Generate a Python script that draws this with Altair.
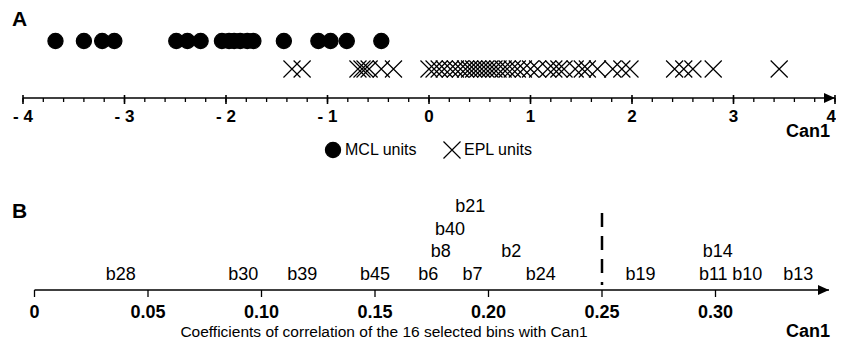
import altair as alt
import pandas as pd

FONT = "Liberation Sans"

# ---------------- data ----------------
mcl_units = [-3.68, -3.40, -3.22, -3.10, -2.49, -2.38, -2.25, -2.04, -1.97, -1.92,
             -1.86, -1.79, -1.73, -1.43, -1.09, -0.97, -0.81, -0.47]
epl_units = [-1.35, -1.25, -0.70, -0.66, -0.63, -0.59, -0.47, -0.35, 0.00, 0.05,
             0.10, 0.15, 0.21, 0.26, 0.31, 0.36, 0.40, 0.44, 0.48, 0.52,
             0.56, 0.60, 0.64, 0.68, 0.73, 0.77, 0.82, 0.87, 0.93, 1.00,
             1.07, 1.17, 1.23, 1.28, 1.33, 1.44, 1.51, 1.56, 1.66, 1.81,
             1.90, 1.98, 2.42, 2.51, 2.60, 2.80, 3.45]
unit_names = ["MCL units", "EPL units"]
can1_ticks = [-4, -3, -2, -1, 0, 1, 2, 3, 4]
can1_tick_labels = ["- 4", "- 3", "- 2", "- 1", "0", "1", "2", "3", "4"]
can1_minor_ticks = [round(-4 + 0.2 * i, 1) for i in range(41)]

bin_names = ["b28", "b30", "b39", "b45", "b6", "b7", "b24", "b19", "b11", "b10", "b13",
             "b8", "b2", "b14", "b40", "b21"]
bin_coefs = [0.038, 0.092, 0.118, 0.150, 0.1735, 0.193, 0.223, 0.267, 0.299, 0.314, 0.3365,
             0.179, 0.210, 0.301, 0.183, 0.192]
bin_levels = [1, 1, 1, 1, 1, 1, 1, 1, 1, 1, 1, 2, 2, 2, 3, 4]
coef_ticks = [0, 0.05, 0.10, 0.15, 0.20, 0.25, 0.30]
coef_tick_labels = ["0", "0.05", "0.10", "0.15", "0.20", "0.25", "0.30"]
coef_threshold = 0.25
coef_axis_end = 0.35

# ---------------- layout ----------------
W, H = 828, 334
scale_a = alt.Scale(domain=[-4.14778, 4.00986], nice=False, zero=False)
scale_b = alt.Scale(domain=[-0.011674, 0.353084], nice=False, zero=False)
CROSS = "M-1,-1L1,1M-1,1L1,-1"
ARROW = "M0,0L-2.2,-1L-2.2,1Z"

# ---------------- panel A ----------------
units_df = pd.DataFrame({
    "can1": mcl_units + epl_units,
    "unit": [unit_names[0]] * len(mcl_units) + [unit_names[1]] * len(epl_units),
})
points = alt.Chart(units_df).mark_point(strokeWidth=1.2, opacity=1, color="black").encode(
    x=alt.X("can1:Q", scale=scale_a, axis=None),
    y=alt.Y("unit:N", scale=alt.Scale(type="point", domain=unit_names, range=[33, 61], padding=0), axis=None),
    shape=alt.Shape("unit:N", scale=alt.Scale(domain=unit_names, range=["circle", CROSS]), legend=None),
    fill=alt.Fill("unit:N", scale=alt.Scale(domain=unit_names, range=["black", "transparent"]), legend=None),
    size=alt.Size("unit:N", scale=alt.Scale(domain=unit_names, range=[230, 290]), legend=None),
)

# legend (drawn from the same unit names)
leg_df = pd.DataFrame({"unit": unit_names})
leg_x = alt.Scale(type="point", domain=unit_names, range=[325, 444], padding=0)
leg_sym = alt.Chart(leg_df).mark_point(strokeWidth=1.2, opacity=1, color="black").encode(
    x=alt.X("unit:N", scale=leg_x, axis=None),
    y=alt.value(142),
    shape=alt.Shape("unit:N", scale=alt.Scale(domain=unit_names, range=["circle", CROSS]), legend=None),
    fill=alt.Fill("unit:N", scale=alt.Scale(domain=unit_names, range=["black", "transparent"]), legend=None),
    size=alt.Size("unit:N", scale=alt.Scale(domain=unit_names, range=[200, 300]), legend=None),
)
leg_txt = alt.Chart(leg_df).mark_text(font=FONT, fontSize=16, color="black", align="left",
                                       baseline="middle", dx=12).encode(
    x=alt.X("unit:N", scale=leg_x, axis=None),
    y=alt.value(142), text="unit:N")

a_ends = pd.DataFrame({"start": [can1_ticks[0]], "end": [can1_ticks[-1]]})
a_line = alt.Chart(a_ends).mark_rule(strokeWidth=1.6, color="black").encode(
    x=alt.X("start:Q", scale=scale_a, axis=None), x2="end:Q", y=alt.value(90))
a_arrow = alt.Chart(a_ends).mark_point(shape=ARROW, filled=True, size=100, opacity=1, color="black").encode(
    x=alt.X("end:Q", scale=scale_a, axis=None), y=alt.value(90))
a_major_df = pd.DataFrame({"v": can1_ticks, "label": can1_tick_labels})
a_major = alt.Chart(a_major_df).mark_rule(strokeWidth=1.6, color="black").encode(
    x=alt.X("v:Q", scale=scale_a, axis=None), y=alt.value(87), y2=alt.value(96))
a_minor = alt.Chart(pd.DataFrame({"v": can1_minor_ticks})).mark_rule(strokeWidth=1.3, color="black").encode(
    x=alt.X("v:Q", scale=scale_a, axis=None), y=alt.value(90), y2=alt.value(94))
a_labels = alt.Chart(a_major_df).transform_filter(
    alt.datum.v < can1_ticks[-1]
).mark_text(font=FONT, fontSize=17, fontWeight="bold", color="black",
            baseline="middle", align="center").encode(
    x=alt.X("v:Q", scale=scale_a, axis=None), y=alt.value(109), text="label:N")
a_last_label = alt.Chart(a_major_df).transform_filter(
    alt.datum.v == can1_ticks[-1]
).mark_text(font=FONT, fontSize=17, fontWeight="bold", color="black",
            baseline="middle", align="right", dx=1).encode(
    x=alt.X("v:Q", scale=scale_a, axis=None), y=alt.value(109), text="label:N")

panel_a = alt.layer(points, a_line, a_arrow, a_major, a_minor, a_labels, a_last_label)
legend_layer = alt.layer(leg_sym, leg_txt)

# ---------------- panel B ----------------
bins_df = pd.DataFrame({"coef": bin_coefs, "name": bin_names, "level": bin_levels})
b_ends = pd.DataFrame({"start": [coef_ticks[0]], "end": [coef_axis_end]})
b_line = alt.Chart(b_ends).mark_rule(strokeWidth=1.6, color="black").encode(
    x=alt.X("start:Q", scale=scale_b, axis=None), x2="end:Q", y=alt.value(282))
b_arrow = alt.Chart(b_ends).mark_point(shape=ARROW, filled=True, size=100, opacity=1, color="black").encode(
    x=alt.X("end:Q", scale=scale_b, axis=None), y=alt.value(282))
b_tick_df = pd.DataFrame({"v": coef_ticks, "label": coef_tick_labels})
b_ticks = alt.Chart(b_tick_df).mark_rule(strokeWidth=1.3, color="black").encode(
    x=alt.X("v:Q", scale=scale_b, axis=None), y=alt.value(282), y2=alt.value(289))
b_labels = alt.Chart(b_tick_df).mark_text(font=FONT, fontSize=18, fontWeight="bold", color="black",
                                           baseline="middle", align="center").encode(
    x=alt.X("v:Q", scale=scale_b, axis=None), y=alt.value(305), text="label:N")
b_bins = alt.Chart(bins_df).mark_text(font=FONT, fontSize=18, color="black",
                                       baseline="middle", align="center").encode(
    x=alt.X("coef:Q", scale=scale_b, axis=None),
    y=alt.Y("level:Q", scale=alt.Scale(domain=[1, 4], range=[267, 199], nice=False, zero=False), axis=None),
    text="name:N")
b_dash = alt.Chart(pd.DataFrame({"v": [coef_threshold]})).mark_rule(
    strokeWidth=2.5, strokeDash=[14, 9], color="black").encode(
    x=alt.X("v:Q", scale=scale_b, axis=None), y=alt.value(205), y2=alt.value(277))

panel_b = alt.layer(b_line, b_arrow, b_ticks, b_labels, b_bins, b_dash)


# ---------------- free texts ----------------
def label(txt, x, y, size, bold=False, align="left"):
    return alt.Chart(pd.DataFrame({"t": [txt]})).mark_text(
        font=FONT, fontSize=size, fontWeight="bold" if bold else "normal", color="black",
        align=align, baseline="middle").encode(x=alt.value(x), y=alt.value(y), text="t:N")


texts = [
    label("A", 4, 12, 21, bold=True),
    label("B", 4, 204, 21, bold=True),
    label("Can1", 822, 124, 18, bold=True, align="right"),
    label("Can1", 822, 324, 18, bold=True, align="right"),
    label("Coefficients of correlation of the 16 selected bins with Can1", 376, 324, 15.5, align="center"),
]

chart = alt.layer(panel_a, legend_layer, panel_b, *texts).resolve_scale(
    x="independent", y="independent"
).properties(
    width=W, height=H, padding=0,
    autosize=alt.AutoSizeParams(type="none"),
    background="white",
).configure_view(stroke=None)

chart.save("out.html", embed_options={"renderer": "svg", "actions": False})
